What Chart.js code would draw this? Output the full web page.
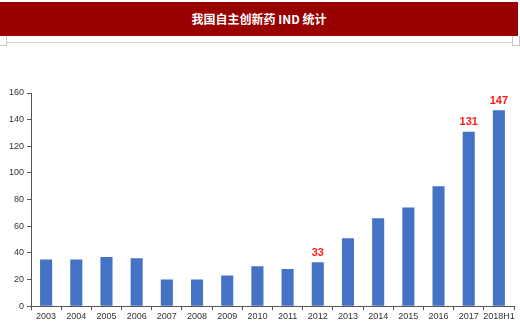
<!DOCTYPE html>
<html><head><meta charset="utf-8">
<script src="https://cdn.jsdelivr.net/npm/chart.js@4/dist/chart.umd.min.js"></script>
<style>
html,body{margin:0;padding:0;background:#fff;}
#wrap{position:relative;width:520px;height:323px;overflow:hidden;}
#hdr{position:absolute;left:0;top:2px;width:518px;height:34px;background:#990000;color:#fff;font:bold 12px "Noto Sans CJK SC","Liberation Sans",sans-serif;text-align:center;line-height:34px;}
#ln1{position:absolute;left:6px;top:42px;width:507px;height:1px;background:#d0d0d0;}
.bx{position:absolute;top:36px;width:6px;height:9px;border:1px solid #c8c8c8;border-top:none;}
#c{position:absolute;left:0;top:0;}
</style></head><body>
<div id="wrap">
<div id="hdr">我国自主创新药 IND 统计</div>
<div id="ln1"></div>
<div class="bx" style="left:-1px;"></div>
<div class="bx" style="left:512px;"></div>
<canvas id="c" width="520" height="323"></canvas>
</div>
<script>
const categories = ['2003','2004','2005','2006','2007','2008','2009','2010','2011','2012','2013','2014','2015','2016','2017','2018H1'];
const indCounts = [35,35,37,36,20,20,23,30,28,33,51,66,74,90,131,147];
const labelledCats = ['2012','2017','2018H1'];
const yTicks = [0,20,40,60,80,100,120,140,160];

const labelPlugin = {
  id:'lbl',
  afterDatasetsDraw(chart){
    const ctx = chart.ctx;
    const meta = chart.getDatasetMeta(0);
    ctx.save();
    ctx.fillStyle = '#ff1a1a';
    ctx.font = 'bold 11px "Liberation Sans", Arial, sans-serif';
    ctx.textAlign = 'center';
    ctx.textBaseline = 'bottom';
    meta.data.forEach((bar,i)=>{
      if(labelledCats.includes(categories[i])){
        ctx.fillText(String(indCounts[i]), bar.x, bar.y - 4);
      }
    });
    ctx.restore();
  }
};

new Chart(document.getElementById('c'), {
  type:'bar',
  data:{labels:categories, datasets:[{data:indCounts, backgroundColor:'#4472c4', borderWidth:0, barPercentage:0.4, categoryPercentage:1.0}]},
  options:{
    responsive:false, animation:false,
    layout:{padding:{top:93,left:6,right:6,bottom:0}},
    plugins:{legend:{display:false}, tooltip:{enabled:false}, title:{display:false}},
    scales:{
      x:{
        grid:{offset:true, drawOnChartArea:false, color:'#555', tickLength:4},
        border:{color:'#555'},
        ticks:{color:'#333', font:{size:9, family:'"Liberation Sans", Arial, sans-serif'}, maxRotation:0, autoSkip:false, padding:1}
      },
      y:{
        min:0, max:160,
        afterBuildTicks(ax){ ax.ticks = yTicks.map(v=>({value:v})); },
        grid:{drawOnChartArea:false, color:'#555', tickLength:4},
        border:{color:'#555'},
        ticks:{color:'#333', font:{size:9, family:'"Liberation Sans", Arial, sans-serif'}, padding:3}
      }
    }
  },
  plugins:[labelPlugin]
});
</script>
</body></html>
